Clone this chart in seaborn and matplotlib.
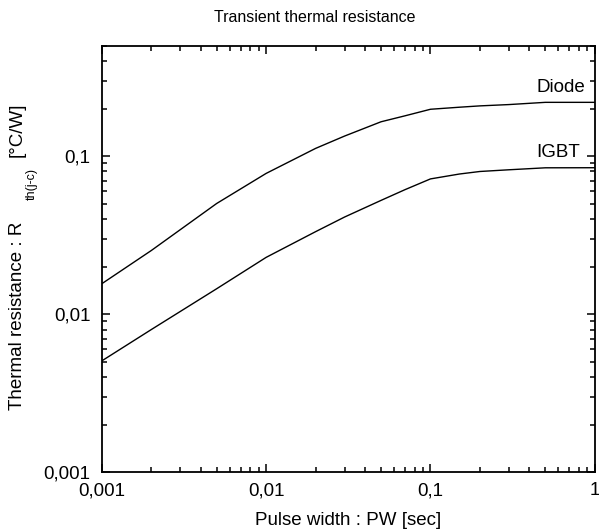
import numpy as np
import pandas as pd
import matplotlib
matplotlib.use("Agg")
import matplotlib.pyplot as plt
import seaborn as sns

# ----------------------
# Data
# ----------------------
pulse_width = [0.001, 0.002, 0.005, 0.01, 0.02, 0.03, 0.05, 0.07, 0.1, 0.15, 0.2, 0.3, 0.5, 1.0]
diode_rth = [0.0156, 0.0253, 0.0502, 0.0778, 0.112, 0.134, 0.165, 0.180, 0.198,
             0.204, 0.208, 0.212, 0.219, 0.219]
igbt_rth = [0.00507, 0.0080, 0.0145, 0.0229, 0.0333, 0.0412, 0.0525, 0.0614, 0.0718,
            0.0771, 0.080, 0.0820, 0.0844, 0.0845]

x_ticks = [0.001, 0.01, 0.1, 1]
x_tick_labels = ["0,001", "0,01", "0,1", "1"]
y_ticks = [0.001, 0.01, 0.1]
y_tick_labels = ["0,001", "0,01", "0,1"]

df = pd.DataFrame({
    "pw": pulse_width * 2,
    "rth": diode_rth + igbt_rth,
    "device": ["Diode"] * len(pulse_width) + ["IGBT"] * len(pulse_width),
})

# ----------------------
# Plot
# ----------------------
sns.set_theme(style="ticks")
plt.rcParams["font.family"] = ["Liberation Sans", "DejaVu Sans"]
plt.rcParams["text.color"] = "black"
plt.rcParams["axes.labelcolor"] = "black"
plt.rcParams["xtick.color"] = "black"
plt.rcParams["ytick.color"] = "black"

fig = plt.figure(figsize=(5.99, 5.31), dpi=100)
ax = fig.add_axes([0.170, 0.1105, 0.823, 0.8035])

sns.lineplot(data=df, x="pw", y="rth", hue="device",
             palette={"Diode": "black", "IGBT": "black"},
             linewidth=1.0, legend=False, ax=ax)

ax.set_xscale("log")
ax.set_yscale("log")
ax.set_xlim(0.001, 1)
ax.set_ylim(0.001, 0.5)

ax.set_xticks(x_ticks, x_tick_labels)
ax.set_yticks(y_ticks, y_tick_labels)

for side in ax.spines.values():
    side.set_linewidth(1.3)
    side.set_color("black")
ax.tick_params(which="both", direction="in", top=True, right=True, width=1.1)
ax.tick_params(which="major", length=6, labelsize=13.5)
ax.tick_params(which="minor", length=3.5)
ax.tick_params(axis="x", which="major", pad=7)
ax.tick_params(axis="y", which="major", pad=8)

ax.text(0.873, 0.239, "Diode", ha="right", va="bottom", fontsize=13.5)
ax.text(0.815, 0.0937, "IGBT", ha="right", va="bottom", fontsize=13.5)

ax.set_xlabel("Pulse width : PW [sec]", fontsize=13.5, labelpad=9)
ax.set_ylabel("")
fig.text(0.526, 0.967, "Transient thermal resistance", ha="center", va="center",
         fontsize=11.5)

# y label in pieces: main text, subscript, unit
fig.text(18 / 599, 1 - 316 / 531, "Thermal resistance : R", rotation=90,
         ha="center", va="center", fontsize=13.5)
fig.text(32 / 599, 1 - 184 / 531, "th(j-c)", rotation=90,
         ha="center", va="center", fontsize=9)
fig.text(17 / 599, 1 - 130 / 531, "[°C/W]", rotation=90,
         ha="center", va="center", fontsize=13.5)

fig.savefig("out.png", dpi=100, facecolor="white")
